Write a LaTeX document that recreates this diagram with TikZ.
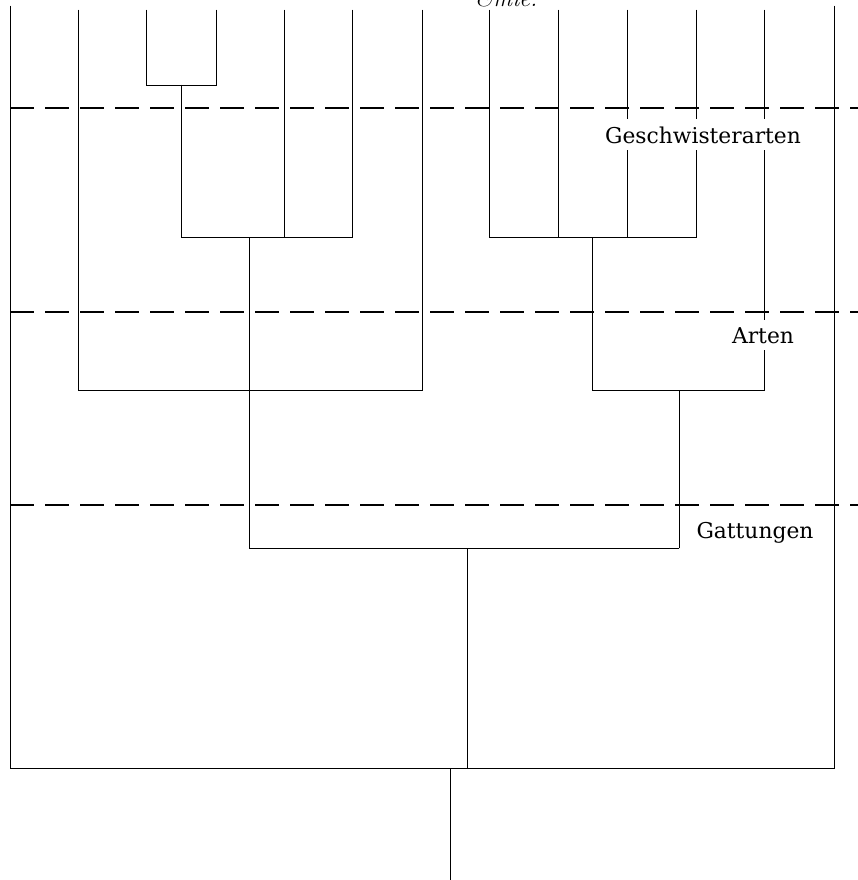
\documentclass[tikz,border=0pt]{standalone}
\usepackage{fontspec}
\setmainfont{Latin Modern Roman}
\newfontfamily\lblfont{DejaVu Serif}
\begin{document}
\begin{tikzpicture}[x=1pt,y=-1pt,
  branch/.style={line width=0.8pt, line cap=rect},
  levelline/.style={line width=2.2pt, dash pattern=on 24pt off 11pt},
  lbl/.style={font=\lblfont\fontsize{21.8}{26}\selectfont, fill=white, inner xsep=2pt, inner ysep=7pt, anchor=base},
  toptext/.style={font=\fontsize{24}{28}\selectfont\itshape, inner sep=0pt, anchor=base}]
\useasboundingbox (0,0) rectangle (858,880);
\clip (0,0) rectangle (858,880);
% top ends of the tips
\foreach \n/\x in {a/78,b/146,c/216,d/284,e/352,f/422,g/489,h/558,i/627,j/696,k/764}
  \coordinate (t\n) at (\x,10);
\coordinate (tL) at (10,6);
\coordinate (tR) at (834,6);
% junctions
\coordinate (b1) at (146,85);  \coordinate (c1) at (216,85);  \coordinate (m1) at (181,85);
\coordinate (m1b) at (181,237); \coordinate (d1) at (284,237); \coordinate (e1) at (352,237);
\coordinate (m2) at (249,237); \coordinate (m2b) at (249,548);
\coordinate (a1) at (78,390); \coordinate (f1) at (422,390);
\coordinate (g1) at (489,237); \coordinate (h1) at (558,237); \coordinate (i1) at (627,237); \coordinate (j1) at (696,237);
\coordinate (m3) at (592,237); \coordinate (m3b) at (592,390);
\coordinate (k1) at (764,390);
\coordinate (m4) at (679,390); \coordinate (m4b) at (679,548);
\coordinate (m5) at (467,548); \coordinate (m5b) at (467,768);
\coordinate (L1) at (10,768); \coordinate (R1) at (834,768);
\coordinate (root) at (450,768); \coordinate (rootb) at (450,880);
% dashed level lines
\coordinate (dl1) at (10,108); \coordinate (dr1) at (858,108);
\coordinate (dl2) at (10,312); \coordinate (dr2) at (858,312);
\coordinate (dl3) at (10,505); \coordinate (dr3) at (858,505);
\draw[levelline] (dl1) -- (dr1);
\draw[levelline] (dl2) -- (dr2);
\draw[levelline] (dl3) -- (dr3);
% tree
\draw[branch] (tb) -- (b1) -- (c1) -- (tc);
\draw[branch] (m1) -- (m1b) -- (e1) -- (te);
\draw[branch] (td) -- (d1);
\draw[branch] (ta) -- (a1) -- (f1) -- (tf);
\draw[branch] (m2) -- (m2b);
\draw[branch] (tg) -- (g1) -- (j1) -- (tj);
\draw[branch] (th) -- (h1);
\draw[branch] (ti) -- (i1);
\draw[branch] (m3) -- (m3b) -- (k1) -- (tk);
\draw[branch] (m4) -- (m4b);
\draw[branch] (m2b) -- (m4b);
\draw[branch] (m5) -- (m5b);
\draw[branch] (tL) -- (L1) -- (R1) -- (tR);
\draw[branch] (root) -- (rootb);
% labels
\node[lbl] (geschw) at (703,143) {Geschwisterarten};
\node[lbl] (arten) at (763,343) {Arten};
\node[lbl] (gatt) at (755,538) {Gattungen};
\node[toptext] (fam) at (506,7) {\&mie.};
\end{tikzpicture}
\end{document}
